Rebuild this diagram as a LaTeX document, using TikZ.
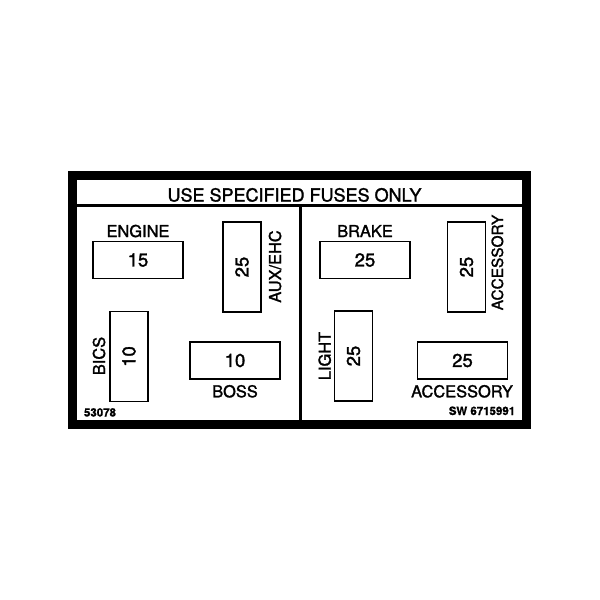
\documentclass[tikz,border=0pt]{standalone}
\usepackage{fontspec}
\setmainfont{TeX Gyre Heros}[BoldFont={TeX Gyre Heros},BoldFeatures={FakeBold=1.6}]
\newfontfamily\tagfont{TeX Gyre Heros}[BoldFeatures={FakeBold=0.8}]

\begin{document}
\begin{tikzpicture}[x=1pt,y=-1pt,
	fuse/.style={draw,line width=1.8pt,inner sep=0pt,font=\bfseries\fontsize{18.5}{20}\selectfont},
	hfuse/.style={fuse,minimum width=90pt,minimum height=37pt},
	vfuse/.style={fuse,minimum width=90pt,minimum height=38pt,rotate=90},
	lbl/.style={inner sep=0pt,anchor=base,font=\bfseries\fontsize{16.4}{18}\selectfont},
	vlbl/.style={lbl,rotate=90},
	tag/.style={inner sep=0pt,anchor=base,font=\tagfont\bfseries\fontsize{11.5}{13}\selectfont}]
	\useasboundingbox (0,0) rectangle (600,600);
	\fill[white] (0,0) rectangle (600,600);
	
	%FRAME
	\draw[line width=8.75pt] (72.75,175.25) rectangle (526.5,424.25);
	\draw[line width=2.8pt] (77,205.5)--(522,205.5);	%header line
	\draw[line width=3pt] (300,205.5)--(300,420);	%divider
	\node[lbl,font=\bfseries\fontsize{18}{20}\selectfont] (title) at (294.5,201.5) {USE SPECIFIED FUSES ONLY};
	
	%LEFT HALF
	\node[hfuse] (engine) at (138,260) {15};
	\node[lbl] (engineLbl) at (138,237) {ENGINE};
	\node[vfuse] (aux) at (242,267) {25};
	\node[vlbl] (auxLbl) at (281,266.5) {AUX/EHC};
	\node[vfuse] (bics) at (129,356.5) {10};
	\node[vlbl] (bicsLbl) at (105,356) {BICS};
	\node[hfuse] (boss) at (235,360.5) {10};
	\node[lbl] (bossLbl) at (235,397.3) {BOSS};
	\node[tag] (partL) at (100,416.5) {53078};
	
	%RIGHT HALF
	\node[hfuse] (brake) at (365,260) {25};
	\node[lbl] (brakeLbl) at (365,237) {BRAKE};
	\node[vfuse] (accA) at (466.5,267) {25};
	\node[vlbl,font=\bfseries\fontsize{15.4}{17}\selectfont] (accALbl) at (503,262.5) {ACCESSORY};
	\node[vfuse] (light) at (353.5,356) {25};
	\node[vlbl] (lightLbl) at (330.7,356) {LIGHT};
	\node[hfuse] (accB) at (462.5,360.5) {25};
	\node[lbl] (accBLbl) at (462,397.3) {ACCESSORY};
	\node[tag] (partR) at (482,415) {SW 6715991};
\end{tikzpicture}
\end{document}
